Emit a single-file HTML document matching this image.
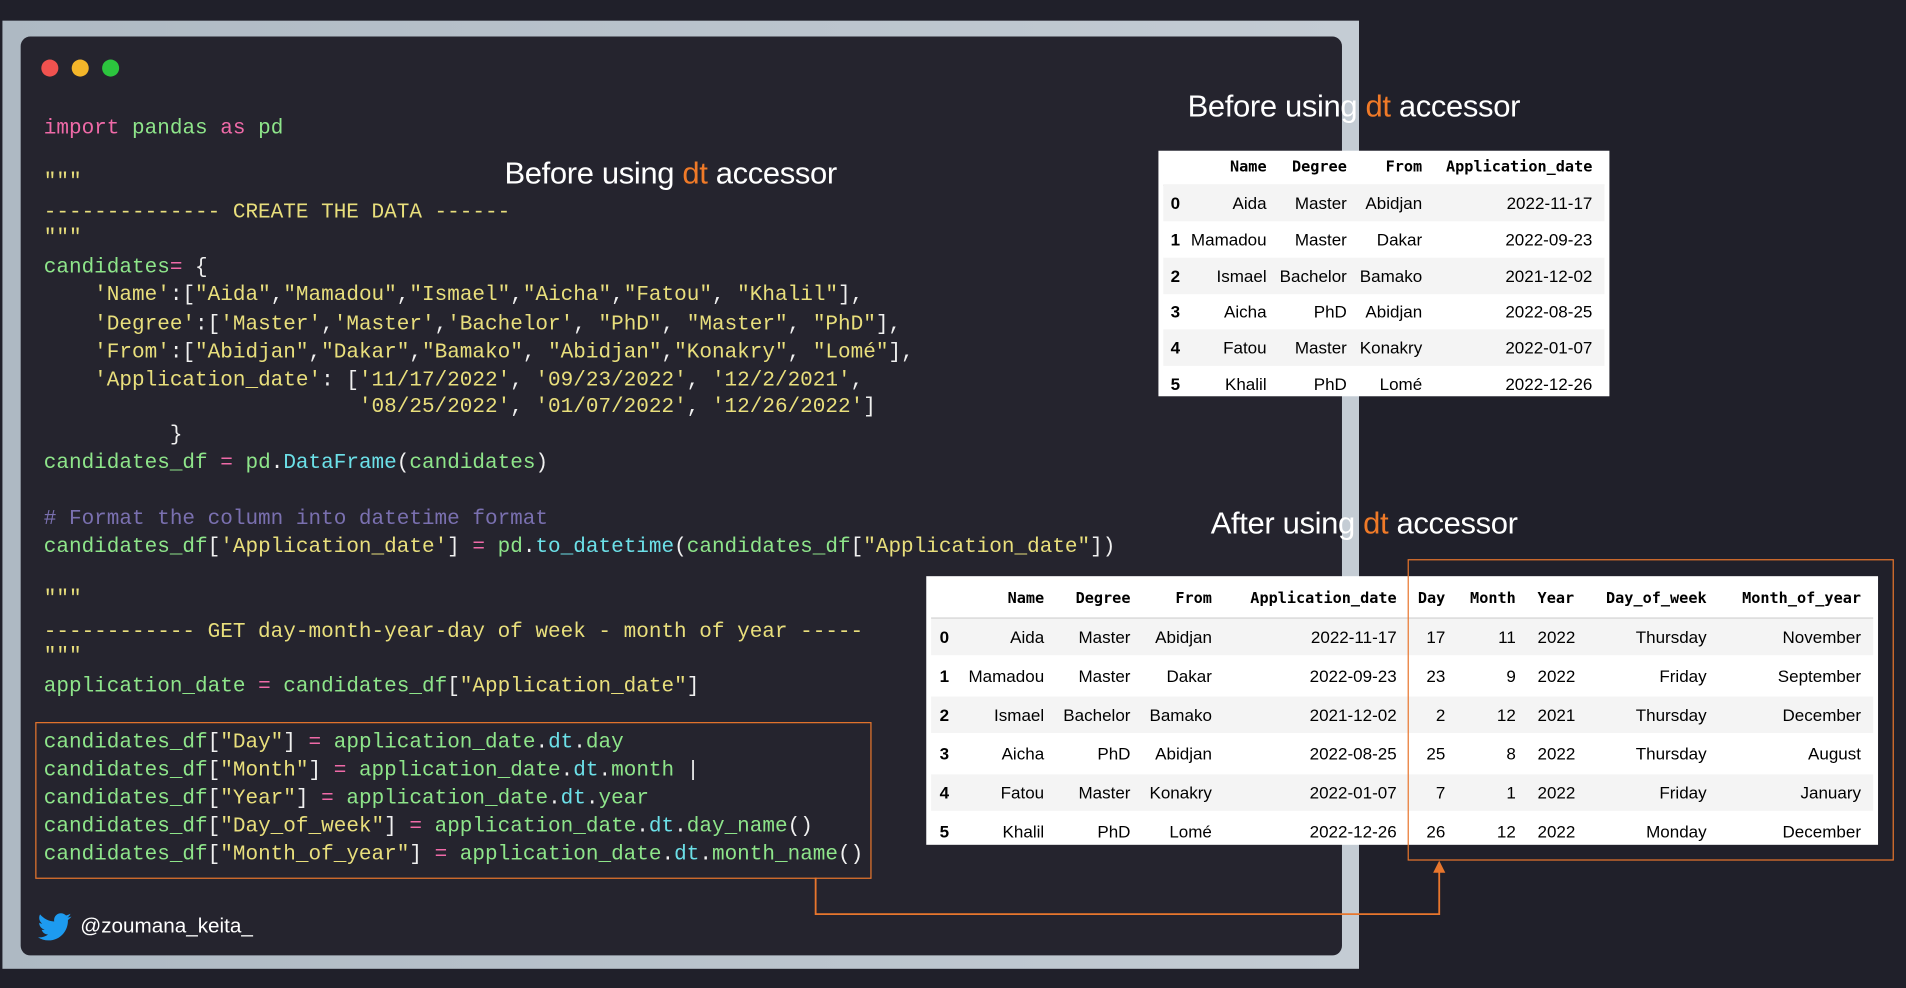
<!DOCTYPE html>
<html><head><meta charset="utf-8"><style>
html,body{margin:0;padding:0;background:#20202a;width:1906px;height:988px;overflow:hidden}
#w{position:absolute;left:0;top:0;width:1568px;height:813px;transform:scale(1.21556);transform-origin:0 0;background:#20202a}
.a{position:absolute}
.code{font-family:"Liberation Mono",monospace;font-size:17.3px;line-height:22px;white-space:pre;color:#f0f0f0;position:absolute;left:36px;height:22px;margin-top:3px}
.k{color:#f06aa8}.g{color:#8ee58a}.y{color:#e9df7c}.c{color:#6ce0e8}.m{color:#7a70b0}.w{color:#f2f2f2}
.ttl{position:absolute;font-family:"Liberation Sans",sans-serif;font-size:25.5px;color:#fff;white-space:nowrap;letter-spacing:-0.3px}
.ttl b{font-weight:normal;color:#f07a28}
.tb{position:absolute;background:#fff;font-family:"Liberation Sans",sans-serif;font-size:14px;color:#000}
.r{position:absolute;left:4px;right:4px;height:30px}
.r span{position:absolute;top:0;line-height:30px;white-space:nowrap}
.h span{font-family:"DejaVu Sans Mono","Liberation Mono",monospace;font-weight:bold;font-size:12.5px}
.s{background:#f4f4f4}
.i{font-weight:bold}
</style></head><body><div id="w">
<div class="a" style="left:2px;top:17px;width:1116px;height:780px;background:linear-gradient(90deg,#aeb9c3,#c4ccd4)"></div>
<div class="a" style="left:17px;top:30px;width:1087px;height:756px;background:#25242e;border-radius:8px"></div>
<div class="a" style="left:34px;top:49px;width:14px;height:14px;border-radius:50%;background:#f0524f"></div>
<div class="a" style="left:59px;top:49px;width:14px;height:14px;border-radius:50%;background:#f4b62a"></div>
<div class="a" style="left:84px;top:49px;width:14px;height:14px;border-radius:50%;background:#2cc53e"></div>

<div class="code" style="top:93px"><span class="k">import</span> <span class="g">pandas</span> <span class="k">as</span> <span class="g">pd</span></div>
<div class="code y" style="top:137px">"""</div>
<div class="code y" style="top:162px">-------------- CREATE THE DATA ------</div>
<div class="code y" style="top:183px">"""</div>
<div class="code" style="top:207px"><span class="g">candidates</span><span class="k">=</span> {</div>
<div class="code" style="top:230px">    <span class="y">'Name'</span>:[<span class="y">"Aida"</span>,<span class="y">"Mamadou"</span>,<span class="y">"Ismael"</span>,<span class="y">"Aicha"</span>,<span class="y">"Fatou"</span>, <span class="y">"Khalil"</span>],</div>
<div class="code" style="top:254px">    <span class="y">'Degree'</span>:[<span class="y">'Master'</span>,<span class="y">'Master'</span>,<span class="y">'Bachelor'</span>, <span class="y">"PhD"</span>, <span class="y">"Master"</span>, <span class="y">"PhD"</span>],</div>
<div class="code" style="top:277px">    <span class="y">'From'</span>:[<span class="y">"Abidjan"</span>,<span class="y">"Dakar"</span>,<span class="y">"Bamako"</span>, <span class="y">"Abidjan"</span>,<span class="y">"Konakry"</span>, <span class="y">"Lomé"</span>],</div>
<div class="code" style="top:300px">    <span class="y">'Application_date'</span>: [<span class="y">'11/17/2022'</span>, <span class="y">'09/23/2022'</span>, <span class="y">'12/2/2021'</span>,</div>
<div class="code" style="top:322px">                         <span class="y">'08/25/2022'</span>, <span class="y">'01/07/2022'</span>, <span class="y">'12/26/2022'</span>]</div>
<div class="code" style="top:345px">          }</div>
<div class="code" style="top:368px"><span class="g">candidates_df</span> <span class="k">=</span> <span class="g">pd</span>.<span class="c">DataFrame</span>(<span class="g">candidates</span>)</div>
<div class="code m" style="top:414px"># Format the column into datetime format</div>
<div class="code" style="top:437px"><span class="g">candidates_df</span>[<span class="y">'Application_date'</span>] <span class="k">=</span> <span class="g">pd</span>.<span class="c">to_datetime</span>(<span class="g">candidates_df</span>[<span class="y">"Application_date"</span>])</div>
<div class="code y" style="top:480px">"""</div>
<div class="code y" style="top:507px">------------ GET day-month-year-day of week - month of year -----</div>
<div class="code y" style="top:527px">"""</div>
<div class="code" style="top:552px"><span class="g">application_date</span> <span class="k">=</span> <span class="g">candidates_df</span>[<span class="y">"Application_date"</span>]</div>
<div class="code" style="top:598px"><span class="g">candidates_df</span>[<span class="y">"Day"</span>] <span class="k">=</span> <span class="g">application_date</span>.<span class="c">dt</span>.<span class="g">day</span></div>
<div class="code" style="top:621px"><span class="g">candidates_df</span>[<span class="y">"Month"</span>] <span class="k">=</span> <span class="g">application_date</span>.<span class="c">dt</span>.<span class="g">month</span> |</div>
<div class="code" style="top:644px"><span class="g">candidates_df</span>[<span class="y">"Year"</span>] <span class="k">=</span> <span class="g">application_date</span>.<span class="c">dt</span>.<span class="g">year</span></div>
<div class="code" style="top:667px"><span class="g">candidates_df</span>[<span class="y">"Day_of_week"</span>] <span class="k">=</span> <span class="g">application_date</span>.<span class="c">dt</span>.<span class="g">day_name</span>()</div>
<div class="code" style="top:690px"><span class="g">candidates_df</span>[<span class="y">"Month_of_year"</span>] <span class="k">=</span> <span class="g">application_date</span>.<span class="c">dt</span>.<span class="g">month_name</span>()</div>
<div class="a" style="left:29px;top:594px;width:686px;height:127px;border:1.5px solid #e8762d"></div>

<div class="ttl" style="left:415px;top:129px">Before using <b>dt</b> accessor</div>
<div class="ttl" style="left:977px;top:74px">Before using <b>dt</b> accessor</div>
<div class="ttl" style="left:996px;top:417px">After using <b>dt</b> accessor</div>

<svg class="a" style="left:30px;top:750px" width="30" height="28" viewBox="0 0 24 22"><path fill="#1d9bf0" d="M23 3c-.8.4-1.7.6-2.6.7.9-.6 1.6-1.4 2-2.5-.9.5-1.900.9-2.9 1.1C18.6 1.4 17.4.8 16.1.8c-2.5 0-4.5 2-4.5 4.5 0 .4 0 .7.1 1C7.9 6.1 4.6 4.3 2.4 1.6c-.4.7-.6 1.4-.6 2.3 0 1.6.8 2.9 2 3.8-.7 0-1.4-.2-2-.6v.1c0 2.2 1.6 4 3.6 4.4-.4.1-.8.2-1.2.2-.3 0-.6 0-.8-.1.6 1.8 2.2 3.1 4.2 3.1-1.5 1.2-3.5 1.9-5.6 1.9H1c2 1.3 4.4 2 6.9 2 8.300 0 12.8-6.9 12.8-12.8v-.6c.9-.6 1.7-1.4 2.3-2.3z"/></svg>
<div class="a" style="left:66px;top:752px;font-family:'Liberation Sans',sans-serif;font-size:17px;color:#fff">@zoumana_keita_</div>

<div class="tb" style="left:953px;top:124px;width:371px;height:202px">
<div class="r h" style="top:-2px"><span style="right:278px">Name</span><span style="right:212px">Degree</span><span style="right:150px">From</span><span style="right:10px">Application_date</span></div>
<div class="a" style="left:4px;right:4px;top:28px;height:1px;background:#ccc"></div>
<div class="r s" style="top:28px"><span class="i" style="left:6px">0</span><span style="right:278px">Aida</span><span style="right:212px">Master</span><span style="right:150px">Abidjan</span><span style="right:10px">2022-11-17</span></div>
<div class="r" style="top:58px"><span class="i" style="left:6px">1</span><span style="right:278px">Mamadou</span><span style="right:212px">Master</span><span style="right:150px">Dakar</span><span style="right:10px">2022-09-23</span></div>
<div class="r s" style="top:88px"><span class="i" style="left:6px">2</span><span style="right:278px">Ismael</span><span style="right:212px">Bachelor</span><span style="right:150px">Bamako</span><span style="right:10px">2021-12-02</span></div>
<div class="r" style="top:117px"><span class="i" style="left:6px">3</span><span style="right:278px">Aicha</span><span style="right:212px">PhD</span><span style="right:150px">Abidjan</span><span style="right:10px">2022-08-25</span></div>
<div class="r s" style="top:147px"><span class="i" style="left:6px">4</span><span style="right:278px">Fatou</span><span style="right:212px">Master</span><span style="right:150px">Konakry</span><span style="right:10px">2022-01-07</span></div>
<div class="r" style="top:177px;height:25px"><span class="i" style="left:6px">5</span><span style="right:278px">Khalil</span><span style="right:212px">PhD</span><span style="right:150px">Lomé</span><span style="right:10px">2022-12-26</span></div>
</div>

<div class="tb" style="left:762px;top:474px;width:783px;height:221px">
<div class="r h" style="top:3px"><span style="right:682px">Name</span><span style="right:611px">Degree</span><span style="right:544px">From</span><span style="right:392px">Application_date</span><span style="right:352px">Day</span><span style="right:294px">Month</span><span style="right:246px">Year</span><span style="right:137px">Day_of_week</span><span style="right:10px">Month_of_year</span></div>
<div class="a" style="left:4px;right:4px;top:34px;height:1px;background:#ccc"></div>
<div class="r s" style="top:35px"><span class="i" style="left:7px">0</span><span style="right:682px">Aida</span><span style="right:611px">Master</span><span style="right:544px">Abidjan</span><span style="right:392px">2022-11-17</span><span style="right:352px">17</span><span style="right:294px">11</span><span style="right:245px">2022</span><span style="right:137px">Thursday</span><span style="right:10px">November</span></div>
<div class="r" style="top:67px"><span class="i" style="left:7px">1</span><span style="right:682px">Mamadou</span><span style="right:611px">Master</span><span style="right:544px">Dakar</span><span style="right:392px">2022-09-23</span><span style="right:352px">23</span><span style="right:294px">9</span><span style="right:245px">2022</span><span style="right:137px">Friday</span><span style="right:10px">September</span></div>
<div class="r s" style="top:99px"><span class="i" style="left:7px">2</span><span style="right:682px">Ismael</span><span style="right:611px">Bachelor</span><span style="right:544px">Bamako</span><span style="right:392px">2021-12-02</span><span style="right:352px">2</span><span style="right:294px">12</span><span style="right:245px">2021</span><span style="right:137px">Thursday</span><span style="right:10px">December</span></div>
<div class="r" style="top:131px"><span class="i" style="left:7px">3</span><span style="right:682px">Aicha</span><span style="right:611px">PhD</span><span style="right:544px">Abidjan</span><span style="right:392px">2022-08-25</span><span style="right:352px">25</span><span style="right:294px">8</span><span style="right:245px">2022</span><span style="right:137px">Thursday</span><span style="right:10px">August</span></div>
<div class="r s" style="top:163px"><span class="i" style="left:7px">4</span><span style="right:682px">Fatou</span><span style="right:611px">Master</span><span style="right:544px">Konakry</span><span style="right:392px">2022-01-07</span><span style="right:352px">7</span><span style="right:294px">1</span><span style="right:245px">2022</span><span style="right:137px">Friday</span><span style="right:10px">January</span></div>
<div class="r" style="top:195px;height:26px"><span class="i" style="left:7px">5</span><span style="right:682px">Khalil</span><span style="right:611px">PhD</span><span style="right:544px">Lomé</span><span style="right:392px">2022-12-26</span><span style="right:352px">26</span><span style="right:294px">12</span><span style="right:245px">2022</span><span style="right:137px">Monday</span><span style="right:10px">December</span></div>
</div>
<div class="a" style="left:1158px;top:460px;width:398px;height:246px;border:1.5px solid #e8762d"></div>

<svg class="a" style="left:0;top:0" width="1568" height="813">
<polyline points="671,722 671,752 1184,752 1184,714" fill="none" stroke="#e8762d" stroke-width="1.5"/>
<polygon points="1184,708 1179,718 1189,718" fill="#e8762d"/>
</svg>
</div></body></html>
